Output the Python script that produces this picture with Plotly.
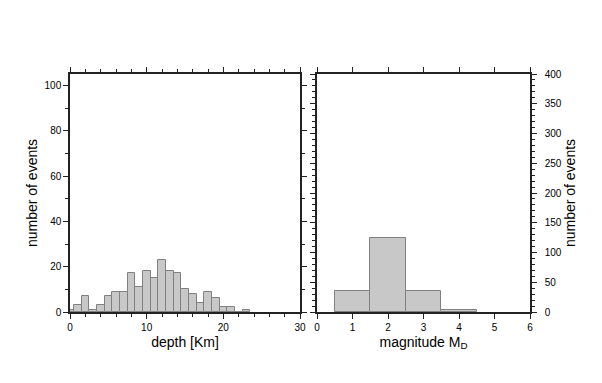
import plotly.graph_objects as go

# Depth histogram (1 km bins centred on integers)
depth_centers = list(range(0, 24))
depth_counts = [1, 3, 7, 1, 3, 7, 9, 9, 17, 11, 18, 15, 23, 18, 17, 10, 8, 4, 9, 6, 2, 2, 0, 1]

# Magnitude histogram (1-unit bins centred on integers)
mag_centers = [1, 2, 3, 4]
mag_counts = [36, 125, 36, 3]

depth_ticks = [0, 10, 20, 30]
mag_ticks = [0, 1, 2, 3, 4, 5, 6]
left_yticks = [0, 20, 40, 60, 80, 100]
right_yticks = [0, 50, 100, 150, 200, 250, 300, 350, 400]

FONT = "Liberation Sans, Arial, Helvetica, sans-serif"
AX = "#222222"
BAR_FILL = "#c8c8c8"
BAR_LINE = "#808080"

fig = go.Figure()
fig.add_trace(go.Bar(x=depth_centers, y=depth_counts, width=1,
                     marker=dict(color=BAR_FILL, line=dict(color=BAR_LINE, width=1)),
                     xaxis="x", yaxis="y", showlegend=False))
fig.add_trace(go.Bar(x=mag_centers, y=mag_counts, width=1,
                     marker=dict(color=BAR_FILL, line=dict(color=BAR_LINE, width=1)),
                     xaxis="x2", yaxis="y2", showlegend=False))

W, H = 602, 383
OFF = 8  # page body margin
yd = [(H - (312 - OFF)) / H, (H - (74 - OFF)) / H]

common = dict(showgrid=False, zeroline=False, showline=True, linecolor=AX, linewidth=1.5,
              ticks="outside", ticklen=5, tickcolor=AX, tickwidth=1, mirror="allticks",
              automargin=False,
              tickfont=dict(size=10, color="#000", family=FONT))

fig.update_layout(
    width=W, height=H, margin=dict(l=0, r=0, t=0, b=0),
    paper_bgcolor="white", plot_bgcolor="white", bargap=0,
    font=dict(family=FONT, color="#000"),
    xaxis=dict(domain=[(70 - OFF) / W, (300 - OFF) / W], range=[0, 30], tickvals=depth_ticks, anchor="y",
               minor=dict(dtick=2, ticklen=3, ticks="outside", tickcolor=AX),
               title=dict(text="depth [Km]", font=dict(size=14, family=FONT), standoff=5),
               **common),
    yaxis=dict(domain=yd, range=[0, 105], tickvals=left_yticks, anchor="x",
               minor=dict(dtick=10, ticklen=3, ticks="outside", tickcolor=AX),
               title=dict(text="number of events", font=dict(size=14, family=FONT), standoff=4),
               **common),
    xaxis2=dict(domain=[(317 - OFF) / W, (530 - OFF) / W], range=[0, 6], tickvals=mag_ticks, anchor="y2",
                title=dict(text="magnitude M<sub>D</sub>", font=dict(size=14, family=FONT), standoff=5),
                **common),
    yaxis2=dict(domain=yd, range=[0, 400], tickvals=right_yticks, anchor="x2", side="right",
                minor=dict(dtick=10, ticklen=3, ticks="outside", tickcolor=AX),
                ticklabelstandoff=6,
                title=dict(text="number of events", font=dict(size=14, family=FONT), standoff=4),
                **common),
)

fig.write_html("out.html")
